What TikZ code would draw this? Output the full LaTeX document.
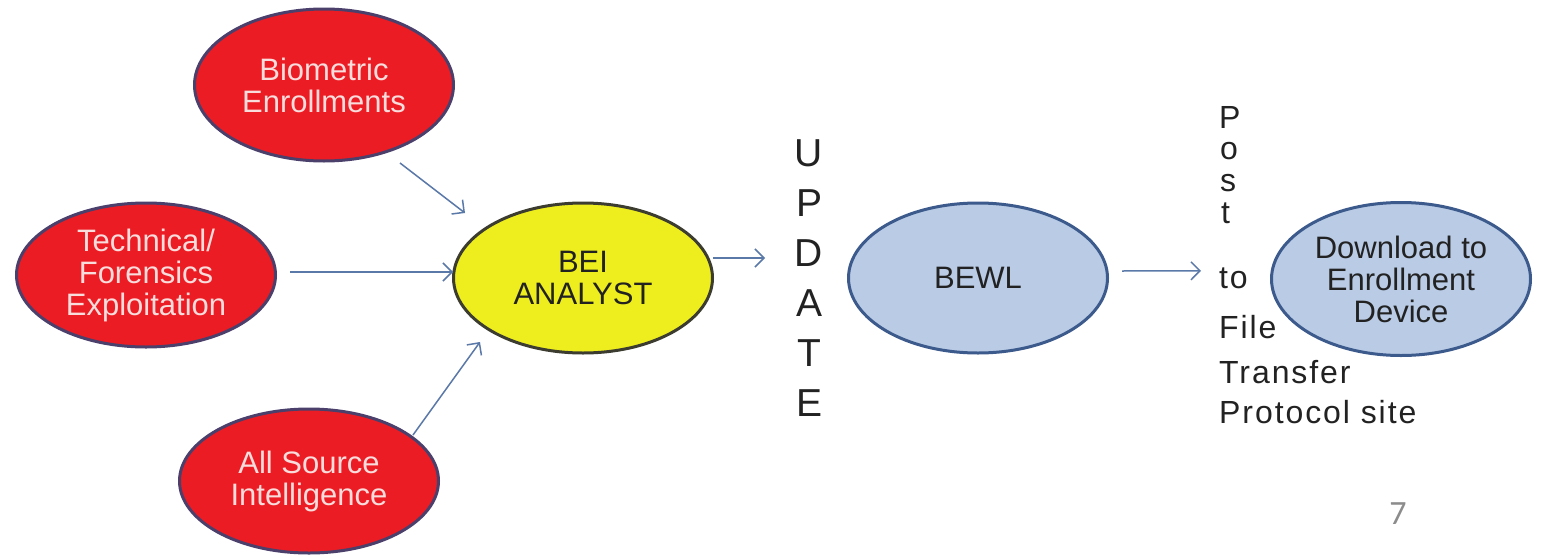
\documentclass[tikz,border=0pt]{standalone}
\usepackage{fontspec}
\setmainfont{Liberation Sans}
\newfontfamily\postfont[LetterSpace=6]{Liberation Sans}
\newfontfamily\pagefont{Carlito}
\usetikzlibrary{shapes.geometric,arrows.meta,calc}
\definecolor{redfill}{HTML}{EC1C24}
\definecolor{redborder}{HTML}{4B3F6B}
\definecolor{pinktext}{HTML}{F9DCDC}
\definecolor{yellowfill}{HTML}{EEEE1E}
\definecolor{yellowborder}{HTML}{3C3C30}
\definecolor{bluefill}{HTML}{B9CBE5}
\definecolor{blueborder}{HTML}{3C5A8C}
\definecolor{arrowcol}{HTML}{5A78A8}
\definecolor{darktext}{HTML}{222222}
\definecolor{pagegray}{HTML}{8C8C8C}
\tikzset{
  ell/.style={ellipse, line width=3pt, inner sep=0pt, align=center,
    minimum width=259pt, minimum height=150pt,
    font=\fontsize{31}{32}\selectfont},
  redell/.style={ell, draw=redborder, fill=redfill, text=pinktext},
  yellowell/.style={ell, draw=yellowborder, fill=yellowfill, text=darktext},
  blueell/.style={ell, draw=blueborder, fill=bluefill, text=darktext},
  arr/.style={draw=arrowcol, line width=1.5pt, -{Straight Barb[length=9pt,width=18pt]}},
  posttxt/.style={inner sep=0pt, anchor=base west, text=darktext,
    font=\postfont\fontsize{32}{32}\selectfont},
}
\begin{document}
\begin{tikzpicture}[x=1pt,y=-1pt]
\useasboundingbox[fill=white] (0,0) rectangle (1542,557);
% source ellipses
\node[redell, minimum height=152pt] (bio) at (324,85) {Biometric\\Enrollments};
\node[redell, minimum height=144pt] (tech) at (146,275) {Technical/\\Forensics\\Exploitation};
\node[redell, minimum height=144pt] (all) at (309,481) {All Source\\Intelligence};
\node[yellowell] (bei) at (583,278) {BEI\\ANALYST};
\node[blueell] (bewl) at (978,278) {BEWL};
\node[blueell, minimum height=153pt] (dl) at (1401,279) {Download to\\Enrollment\\Device};
% UPDATE column
\node[inner sep=0pt, align=center, text=darktext,
  font=\fontsize{39}{50}\selectfont] (update) at (809,278) {U\\P\\D\\A\\T\\E};
% Post to File Transfer Protocol site
\node[posttxt] (p1) at (1219,128) {P};
\node[posttxt] (p2) at (1220,159) {o};
\node[posttxt] (p3) at (1220,191) {s};
\node[posttxt] (p4) at (1221,223) {t};
\node[posttxt] (to) at (1219,288) {to};
\node[posttxt] (file) at (1219,338) {File};
\node[posttxt] (transfer) at (1219,383) {Transfer};
\node[posttxt] (protocol) at (1219,423) {Protocol site};
% page number
\node[inner sep=0pt, text=pagegray, font=\pagefont\fontsize{34}{34}\selectfont] (pg) at (1398,514) {7};
% connectors
\draw[arr] ($(bio)+(76,78)$) -- ($(bei)+(-118,-65)$);
\draw[arr] ($(tech)+(144,-3)$) -- ($(bei)+(-130,-6)$);
\draw[arr] ($(all)+(104,-46)$) -- ($(bei)+(-103,64)$);
\draw[arr] ($(bei)+(130,-20)$) -- ($(update)+(-44,-20)$);
\draw[arr] ($(bewl)+(144,-7)$) -- ($(to.west)+(-18,-7)$);
\end{tikzpicture}
\end{document}
